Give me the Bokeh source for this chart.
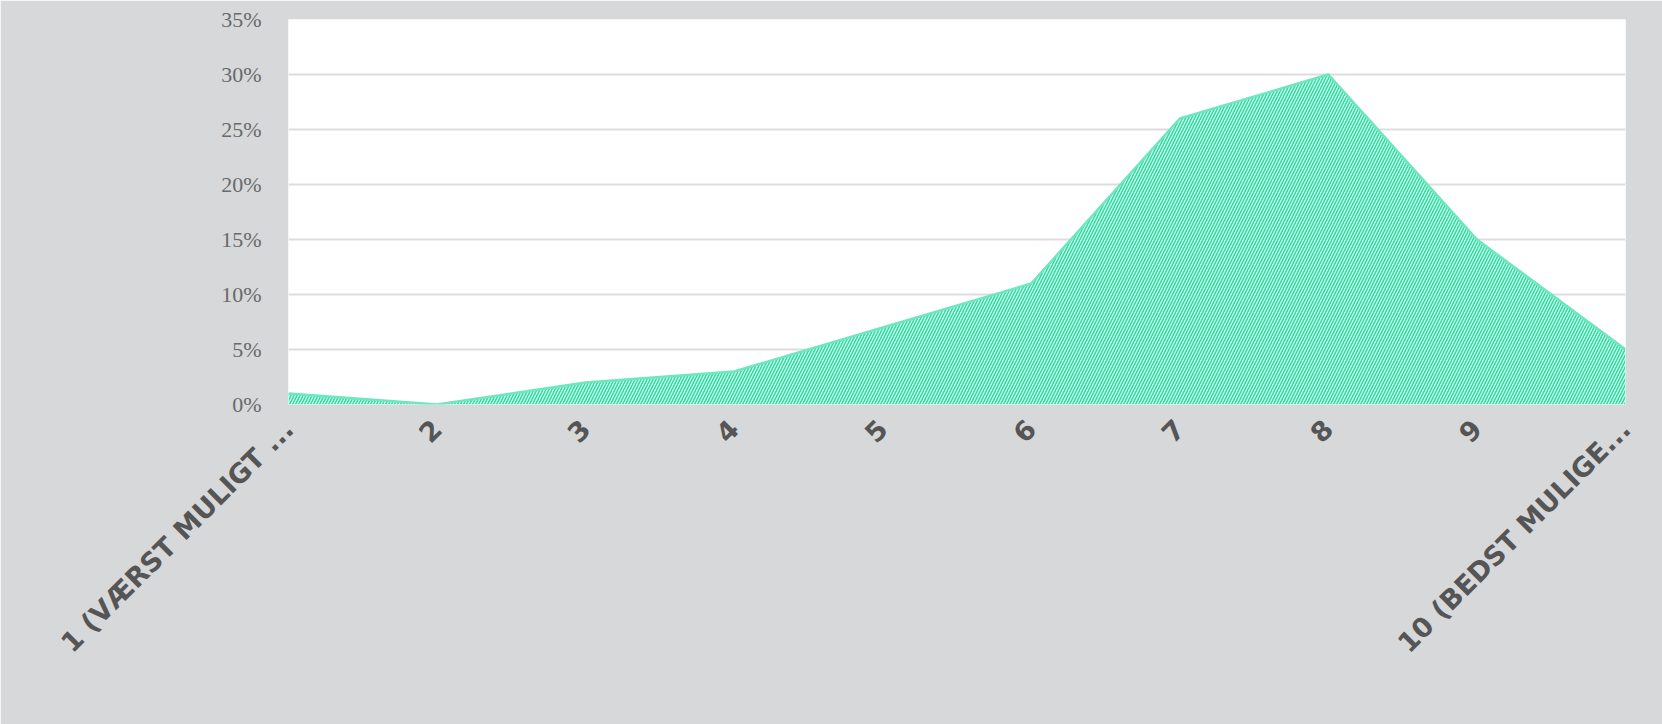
import math
from bokeh.plotting import figure
from bokeh.models import Range1d, FixedTicker, NumeralTickFormatter
from bokeh.embed import file_html
from bokeh.resources import INLINE

categories = ["1 (VÆRST MULIGT ...", "2", "3", "4", "5", "6", "7", "8", "9", "10 (BEDST MULIGE..."]
values = [1, 0, 2, 3, 7, 11, 26, 30, 15, 5]
y_ticks = [0, 5, 10, 15, 20, 25, 30, 35]

xs = list(range(len(categories)))
vals = [v / 100 for v in values]

p = figure(width=1662, height=724, output_backend="svg", toolbar_location=None,
           x_range=Range1d(0, len(categories) - 1), y_range=Range1d(0, 0.35),
           min_border_left=288, min_border_right=37, min_border_top=19, min_border_bottom=320)

p.background_fill_color = "white"
p.border_fill_color = "#d7d8da"
p.outline_line_color = None

p.varea(x=xs, y1=[0] * len(xs), y2=vals, fill_color="#c6fcea",
        hatch_pattern="/", hatch_color="#2ed5a1", hatch_scale=6, hatch_weight=1.4)
p.line(x=xs, y=vals, line_color="#6fe6c0", line_width=2.5)

p.xaxis.ticker = FixedTicker(ticks=xs)
p.xaxis.major_label_overrides = {i: c for i, c in enumerate(categories)}
p.xaxis.major_label_orientation = math.pi / 4
p.xaxis.major_label_text_font = "DejaVu Sans"
p.xaxis.major_label_text_font_style = "bold"
p.xaxis.major_label_text_font_size = "27px"
p.xaxis.major_label_text_color = "#555555"
p.xaxis.major_label_standoff = 14
p.xaxis.axis_line_color = None
p.xaxis.major_tick_line_color = None
p.xaxis.minor_tick_line_color = None

p.yaxis.ticker = FixedTicker(ticks=[t / 100 for t in y_ticks])
p.yaxis.formatter = NumeralTickFormatter(format="0%")
p.yaxis.major_label_text_font = "Liberation Serif"
p.yaxis.major_label_text_font_size = "22px"
p.yaxis.major_label_text_color = "#6a6a6a"
p.yaxis.major_label_standoff = 21
p.yaxis.axis_line_color = None
p.yaxis.major_tick_line_color = None
p.yaxis.minor_tick_line_color = None

p.xgrid.grid_line_color = None
p.ygrid.grid_line_color = "#dddddd"
p.ygrid.grid_line_width = 2
p.grid.level = "image"

open("out.html", "w").write(file_html(p, INLINE))
